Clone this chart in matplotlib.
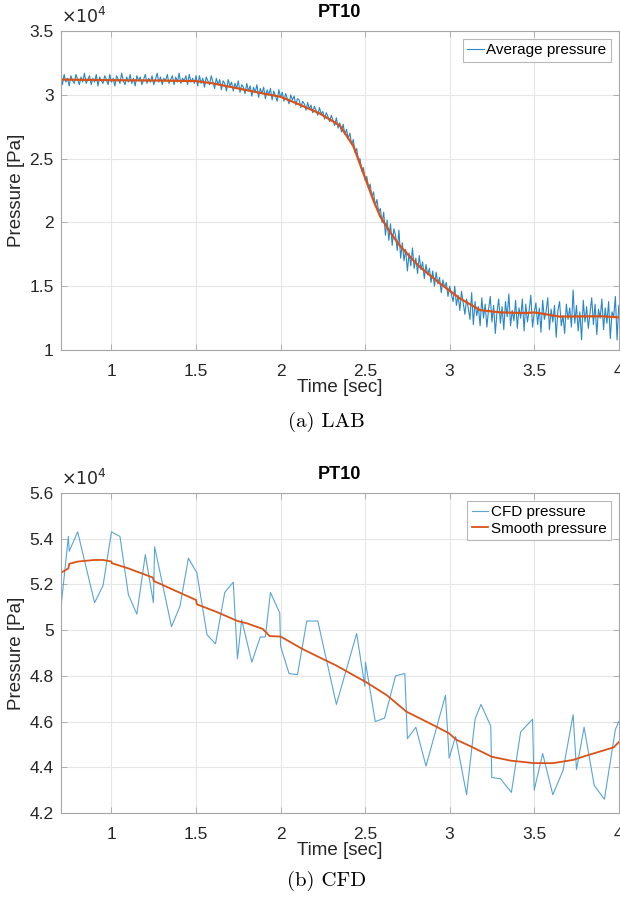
import matplotlib
matplotlib.use("Agg")
import matplotlib.pyplot as plt
import numpy as np

plt.rcParams["font.family"] = ["Liberation Sans", "DejaVu Sans"]

# pressures are in units of 1e4 Pa
lab_t0, lab_dt = 0.70, 0.01
lab_avg = [
    3.14, 3.08, 3.16, 3.10, 3.13, 3.07, 3.15, 3.11, 3.09, 3.16,
    3.12, 3.08, 3.14, 3.10, 3.17, 3.09, 3.12, 3.15, 3.08, 3.13,
    3.10, 3.16, 3.07, 3.14, 3.11, 3.09, 3.15, 3.12, 3.08, 3.16,
    3.10, 3.13, 3.07, 3.15, 3.12, 3.09, 3.17, 3.11, 3.08, 3.14,
    3.10, 3.16, 3.09, 3.13, 3.07, 3.15, 3.11, 3.14, 3.08, 3.12,
    3.16, 3.09, 3.13, 3.10, 3.15, 3.08, 3.12, 3.17, 3.10, 3.14,
    3.08, 3.13, 3.11, 3.16, 3.09, 3.12, 3.15, 3.08, 3.14, 3.10,
    3.17, 3.09, 3.13, 3.11, 3.15, 3.08, 3.16, 3.10, 3.13, 3.09, 3.15,
    3.07, 3.15, 3.09, 3.13, 3.06, 3.14, 3.11, 3.08, 3.15, 3.10,
    3.05, 3.13, 3.08, 3.12, 3.04, 3.11, 3.09, 3.03, 3.12, 3.07,
    3.10, 3.03, 3.09, 3.05, 3.11, 3.02, 3.08, 3.06, 3.01, 3.09,
    3.03, 3.07, 2.99, 3.06, 3.02, 3.08, 2.98, 3.05, 3.01, 3.06,
    2.97, 3.04, 3.00, 3.05, 2.96, 3.03, 2.99, 2.95, 3.04, 2.98,
    3.02, 2.95, 3.01, 2.97, 2.93, 3.00, 2.96, 2.99, 2.92, 2.97,
    2.96, 2.90, 2.95, 2.93, 2.88, 2.94, 2.89, 2.92, 2.86, 2.91,
    2.88, 2.84, 2.90, 2.85, 2.87, 2.81, 2.86, 2.83, 2.79, 2.84,
    2.80, 2.76, 2.82, 2.74, 2.78, 2.71, 2.77, 2.69, 2.73, 2.66,
    2.70, 2.61, 2.65, 2.55, 2.58, 2.49, 2.50, 2.40, 2.43, 2.33,
    2.36, 2.27, 2.30, 2.20, 2.24, 2.13, 2.18, 2.08, 2.11, 2.00,
    2.08, 1.90, 2.02, 1.86, 1.99, 1.82, 1.95, 1.90, 1.78, 1.94,
    1.72, 1.84, 1.70, 1.79, 1.62, 1.76, 1.66, 1.80, 1.64, 1.72,
    1.60, 1.74, 1.63, 1.69, 1.56, 1.67, 1.59, 1.64, 1.53, 1.62,
    1.50, 1.61, 1.52, 1.57, 1.45, 1.55, 1.49, 1.53, 1.42, 1.50,
    1.44, 1.38, 1.50, 1.35, 1.43, 1.31, 1.46, 1.37, 1.28, 1.40,
    1.33, 1.24, 1.45, 1.20, 1.38, 1.27, 1.34, 1.19, 1.41, 1.25,
    1.36, 1.18, 1.32, 1.42, 1.22, 1.35, 1.13, 1.30, 1.40, 1.21,
    1.34, 1.16, 1.38, 1.26, 1.44, 1.19, 1.31, 1.23, 1.39, 1.17,
    1.33, 1.25, 1.40, 1.15, 1.36, 1.22, 1.31, 1.43, 1.18, 1.29,
    1.37, 1.20, 1.33, 1.14, 1.39, 1.24, 1.30, 1.41, 1.16, 1.32,
    1.22, 1.35, 1.10, 1.31, 1.38, 1.19, 1.27, 1.13, 1.36, 1.24,
    1.33, 1.18, 1.47, 1.21, 1.35, 1.15, 1.30, 1.08, 1.39, 1.22,
    1.34, 1.17, 1.29, 1.41, 1.20, 1.36, 1.12, 1.32, 1.25, 1.40,
    1.16, 1.33, 1.21, 1.38, 1.09, 1.30, 1.26, 1.42, 1.08, 1.35,
]
lab_time = lab_t0 + lab_dt * np.arange(len(lab_avg))

lab_smooth_t = [0.70, 1.00, 1.30, 1.50, 1.60, 1.75, 1.90, 2.00, 2.11, 2.23,
                2.30, 2.35, 2.43, 2.50, 2.55, 2.59, 2.65, 2.71, 2.82, 2.94,
                3.06, 3.18, 3.30, 3.45, 3.50, 3.55, 3.65, 3.90, 4.00]
lab_smooth = [3.120, 3.115, 3.112, 3.108, 3.090, 3.050, 3.010, 2.985, 2.925, 2.855,
              2.800, 2.760, 2.600, 2.350, 2.170, 2.045, 1.920, 1.810, 1.655, 1.525,
              1.405, 1.313, 1.295, 1.290, 1.295, 1.285, 1.262, 1.265, 1.256]

cfd_time = [0.700, 0.745, 0.750, 0.800, 0.900, 0.950, 1.000, 1.050, 1.100, 1.150,
            1.200, 1.248, 1.255, 1.355, 1.405, 1.455, 1.505, 1.565, 1.615, 1.670,
            1.720, 1.745, 1.770, 1.830, 1.880, 1.910, 1.940, 1.995, 2.000, 2.050,
            2.100, 2.155, 2.220, 2.330, 2.450, 2.498, 2.502, 2.560, 2.615, 2.680,
            2.735, 2.750, 2.800, 2.860, 2.975, 2.997, 3.035, 3.100, 3.150, 3.185,
            3.243, 3.249, 3.300, 3.365, 3.420, 3.490, 3.500, 3.550, 3.610, 3.670,
            3.730, 3.750, 3.795, 3.855, 3.915, 3.980, 4.000]
cfd_pressure = [5.090, 5.410, 5.345, 5.430, 5.120, 5.195, 5.430, 5.410, 5.155, 5.070,
                5.330, 5.120, 5.365, 5.015, 5.105, 5.315, 5.250, 4.980, 4.940, 5.165,
                5.210, 4.875, 5.045, 4.860, 4.970, 4.970, 5.165, 5.075, 4.930, 4.810,
                4.805, 5.040, 5.040, 4.675, 4.985, 4.755, 4.860, 4.600, 4.615, 4.800,
                4.810, 4.525, 4.575, 4.405, 4.715, 4.440, 4.535, 4.280, 4.610, 4.675,
                4.580, 4.355, 4.350, 4.290, 4.555, 4.610, 4.300, 4.460, 4.280, 4.385,
                4.630, 4.390, 4.575, 4.320, 4.260, 4.565, 4.600]

cfd_smooth_t = [0.700, 0.745, 0.750, 0.800, 0.900, 0.950, 1.000, 1.002, 1.100, 1.245,
                1.250, 1.400, 1.500, 1.505, 1.620, 1.745, 1.800, 1.895, 1.935, 2.000,
                2.133, 2.260, 2.330, 2.450, 2.500, 2.627, 2.745, 2.920, 2.995, 3.040,
                3.120, 3.249, 3.360, 3.500, 3.610, 3.730, 3.800, 3.970, 4.000]
cfd_smooth = [5.250, 5.270, 5.290, 5.300, 5.307, 5.307, 5.300, 5.293, 5.270, 5.230,
              5.215, 5.165, 5.132, 5.113, 5.080, 5.040, 5.030, 5.005, 4.974, 4.972,
              4.916, 4.870, 4.845, 4.795, 4.775, 4.716, 4.643, 4.578, 4.549, 4.520,
              4.493, 4.446, 4.429, 4.418, 4.418, 4.432, 4.449, 4.487, 4.510]

orange = "#D95319"
txt = "#262626"
edge = "#a6a6a6"

fig = plt.figure(figsize=(6.2, 8.98), dpi=100)
ax1 = fig.add_axes([0.098, 0.6102, 0.9, 0.3552])
ax2 = fig.add_axes([0.098, 0.0947, 0.9, 0.3563])


def style(ax, ylim, yticks, ylabels):
    ax.set_xlim(0.7, 4)
    ax.set_ylim(*ylim)
    ax.set_xticks([1, 1.5, 2, 2.5, 3, 3.5, 4])
    ax.set_xticklabels(["1", "1.5", "2", "2.5", "3", "3.5", "4"])
    ax.set_yticks(yticks)
    ax.set_yticklabels(ylabels)
    ax.grid(True, color="#e6e6e6", linewidth=0.8)
    ax.set_axisbelow(True)
    for s in ax.spines.values():
        s.set_color(edge)
        s.set_linewidth(0.8)
    ax.tick_params(direction="in", length=4, width=0.6, color=edge,
                   labelcolor=txt, labelsize=12.5, top=True, right=True)
    ax.tick_params(axis="x", pad=10)
    ax.tick_params(axis="y", pad=5)
    ax.set_xlabel("Time [sec]", fontsize=13.5, color=txt, labelpad=0)
    ax.set_ylabel("Pressure [Pa]", fontsize=13.5, color=txt, labelpad=3)
    ax.set_title("PT10", fontsize=13, fontweight="bold", color="black", pad=10)
    ax.text(0.0, 1.015, r"$\times10^{4}$", transform=ax.transAxes, fontsize=12.5,
            color=txt, ha="left", va="bottom")


def legend(ax):
    leg = ax.legend(loc="upper right", fontsize=11, frameon=True, fancybox=False,
                    edgecolor=edge, handlelength=1.1, handletextpad=0.15,
                    borderaxespad=0.5, borderpad=0.3, labelspacing=0.15)
    leg.get_frame().set_linewidth(0.8)
    for t in leg.get_texts():
        t.set_color("black")


ax1.plot(lab_time, lab_avg, color="#2a86c8", linewidth=0.8,
         label="Average pressure")
ax1.plot(lab_smooth_t, lab_smooth, color=orange, linewidth=1.6)
style(ax1, (1, 3.5), [1, 1.5, 2, 2.5, 3, 3.5], ["1", "1.5", "2", "2.5", "3", "3.5"])
legend(ax1)

ax2.plot(cfd_time, cfd_pressure, color="#5aa5d6", linewidth=0.8,
         label="CFD pressure")
ax2.plot(cfd_smooth_t, cfd_smooth, color=orange, linewidth=1.3,
         label="Smooth pressure")
style(ax2, (4.2, 5.6), [4.2, 4.4, 4.6, 4.8, 5, 5.2, 5.4, 5.6],
      ["4.2", "4.4", "4.6", "4.8", "5", "5.2", "5.4", "5.6"])
legend(ax2)

fig.text(0.527, 0.53, "(a) LAB", fontsize=15, family="cmr10",
         ha="center", va="center")
fig.text(0.527, 0.0195, "(b) CFD", fontsize=15, family="cmr10",
         ha="center", va="center")

fig.savefig("out.png", dpi=100)
